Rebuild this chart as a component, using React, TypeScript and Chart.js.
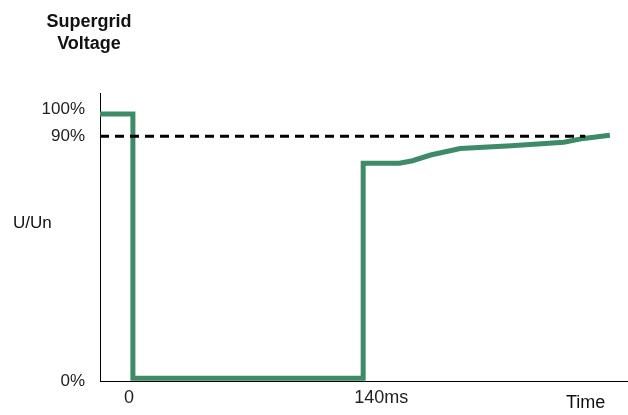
import React, { useEffect, useRef } from "react";
import { Chart, registerables } from "chart.js";

Chart.register(...registerables);

// ---- data ----
const titleLines = ["Supergrid", "Voltage"];
const yAxisName = "U/Un";
const xAxisName = "Time";

const voltageTimes = [-20, 0, 0, 140, 140, 162, 170, 181, 199, 230, 262, 274, 290];
const voltageLevels = [98.2, 98.2, 1, 1, 80.1, 80.1, 81, 83.1, 85.5, 86.5, 87.8, 89.2, 90.4];

const limitTimes = [-20, 275];
const limitLevels = [90, 90];

const xTickValues = [0, 140];
const xTickLabels = ["0", "140ms"];
const yTickValues = [0, 90, 100];
const yTickLabels = ["0%", "90%", "100%"];

const FONT = "'Liberation Sans', Arial, sans-serif";

const textPlugin = {
  id: "schematicText",
  afterDraw(chart: any) {
    const ctx = chart.ctx;
    ctx.save();
    ctx.fillStyle = "#111";
    ctx.textBaseline = "alphabetic";
    ctx.textAlign = "center";
    ctx.font = `bold 18px ${FONT}`;
    titleLines.forEach((line, i) => ctx.fillText(line, 89, 27 + i * 22));
    ctx.font = `17px ${FONT}`;
    ctx.textAlign = "left";
    ctx.fillText(yAxisName, 13, 228);
    ctx.font = `18px ${FONT}`;
    ctx.fillText(xAxisName, 566, 408);
    ctx.restore();
  },
};

export default function App() {
  const ref = useRef<HTMLCanvasElement | null>(null);

  useEffect(() => {
    if (!ref.current) return;
    const chart = new Chart(ref.current, {
      type: "line",
      data: {
        datasets: [
          {
            label: "90% limit",
            data: limitTimes.map((t, i) => ({ x: t, y: limitLevels[i] })),
            borderColor: "#000",
            borderWidth: 3,
            borderDash: [9, 6],
            pointRadius: 0,
            tension: 0,
          },
          {
            label: "Voltage",
            data: voltageTimes.map((t, i) => ({ x: t, y: voltageLevels[i] })),
            borderColor: "#3d8c67",
            borderWidth: 5,
            pointRadius: 0,
            tension: 0,
            borderJoinStyle: "miter",
            borderCapStyle: "butt",
          },
        ],
      },
      options: {
        animation: false,
        responsive: true,
        maintainAspectRatio: false,
        layout: { padding: { left: 40, top: 93, right: 0, bottom: 0 } },
        plugins: {
          legend: { display: false },
          tooltip: { enabled: false },
          title: { display: false },
        },
        scales: {
          x: {
            type: "linear",
            min: -20,
            max: 301,
            grid: { display: false, drawTicks: false },
            border: { display: true, color: "#000", width: 1 },
            afterBuildTicks: (scale: any) => {
              scale.ticks = xTickValues.map((v) => ({ value: v }));
            },
            afterFit: (scale: any) => {
              scale.height = 34;
            },
            ticks: {
              align: "start",
              labelOffset: -9,
              padding: 6,
              maxRotation: 0,
              autoSkip: false,
              color: "#222",
              font: { family: FONT, size: 18 },
              callback: (v: any) => {
                const i = xTickValues.indexOf(Number(v));
                return i >= 0 ? xTickLabels[i] : "";
              },
            },
          },
          y: {
            type: "linear",
            min: 0,
            max: 105.9,
            grid: { display: false, drawTicks: false },
            border: { display: true, color: "#000", width: 1 },
            afterBuildTicks: (scale: any) => {
              scale.ticks = yTickValues.map((v) => ({ value: v }));
            },
            afterFit: (scale: any) => {
              scale.width = 60;
            },
            ticks: {
              padding: 15,
              autoSkip: false,
              color: "#222",
              font: { family: FONT, size: 17 },
              callback: (v: any) => {
                const i = yTickValues.indexOf(Number(v));
                return i >= 0 ? yTickLabels[i] : "";
              },
            },
          },
        },
      },
      plugins: [textPlugin],
    } as any);
    return () => chart.destroy();
  }, []);

  return (
    <div style={{ position: "fixed", left: 0, top: 0, width: 628, height: 415, background: "#fff" }}>
      <canvas ref={ref} />
    </div>
  );
}
